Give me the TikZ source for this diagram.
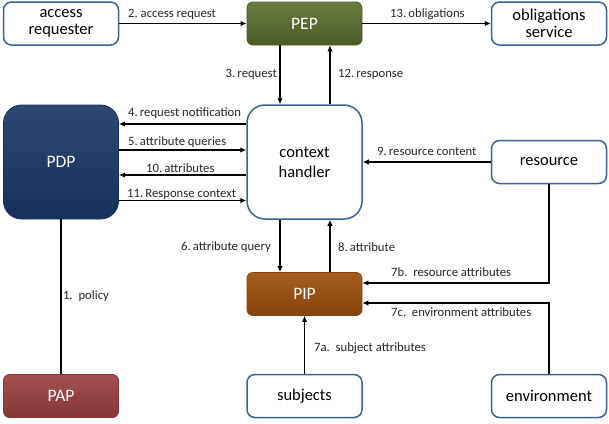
\documentclass[tikz,border=0pt]{standalone}
\usepackage{fontspec}
\setmainfont{Carlito}
\usetikzlibrary{arrows.meta,calc}
\definecolor{bordblue}{HTML}{3A6296}
\definecolor{pepc}{HTML}{5C7030}
\definecolor{pepd}{HTML}{4A5B26}
\definecolor{pdpc}{HTML}{1F3D6A}
\definecolor{pdpd}{HTML}{17305A}
\definecolor{pipc}{HTML}{A0520F}
\definecolor{pipd}{HTML}{86440C}
\definecolor{papc}{HTML}{9E4444}
\definecolor{papd}{HTML}{843636}
\begin{document}
\begin{tikzpicture}[x=1pt,y=-1pt,
  box/.style={minimum width=115pt,minimum height=43pt,inner sep=0pt,align=center,
    font=\fontsize{16.5}{17}\selectfont},
  wbox/.style={box,draw=bordblue,line width=1.5pt,fill=white,rounded corners=8pt},
  cbox/.style={box,text=white,line width=0.8pt,rounded corners=6pt,font=\fontsize{17.5}{18}\selectfont},
  arr/.style={line width=1.8pt,-{Latex[length=6pt,width=5.5pt]}},
  ln/.style={line width=1.8pt},
  lbl/.style={font=\fontsize{12.7}{14}\selectfont,inner sep=0pt,text=black!85}]
\useasboundingbox (0,0) rectangle (609,423);
% nodes
\node[wbox] (AR) at (61,23.5) {access\\requester};
\node[cbox,top color=pepc!92!white,bottom color=pepd,draw=pepd] (PEP) at (304.5,23.5) {PEP};
\node[wbox] (OS) at (549,23.5) {obligations\\service};
\node[cbox,minimum height=114pt,rounded corners=18pt,top color=pdpc!94!white,bottom color=pdpd,draw=pdpd] (PDP) at (61,162) {PDP};
\node[wbox,minimum height=114pt,rounded corners=18pt,font=\fontsize{16.5}{20}\selectfont] (CH) at (304.5,162) {context\\handler};
\node[wbox] (RES) at (549,162) {resource};
\node[cbox,top color=pipc!94!white,bottom color=pipd,draw=pipd] (PIP) at (304.5,294) {PIP};
\node[cbox,top color=papc!94!white,bottom color=papd,draw=papd] (PAP) at (61,396) {PAP};
\node[wbox] (SUB) at (304.5,396) {subjects};
\node[wbox] (ENV) at (549,396) {environment};
% coordinates
\coordinate (c3) at (280,0);
\coordinate (c12) at (330,0);
\coordinate (r4) at (0,124);
\coordinate (r5) at (0,150);
\coordinate (r10) at (0,175);
\coordinate (r11) at (0,200.5);
\coordinate (r7b) at (0,283);
\coordinate (r7c) at (0,303);
\coordinate (k7b) at (549,283);
\coordinate (k7c) at (549,303);
% connectors
\draw[arr] (AR.east) -- (PEP.west);
\draw[arr] (PEP.east) -- (OS.west);
\draw[arr] (PEP.south -| c3) -- (CH.north -| c3);
\draw[arr] (CH.north -| c12) -- (PEP.south -| c12);
\draw[arr] (CH.west |- r4) -- (PDP.east |- r4);
\draw[arr] (PDP.east |- r5) -- (CH.west |- r5);
\draw[arr] (CH.west |- r10) -- (PDP.east |- r10);
\draw[arr] (PDP.east |- r11) -- (CH.west |- r11);
\draw[arr] (RES.west) -- (CH.east);
\draw[arr] (CH.south -| c3) -- (PIP.north -| c3);
\draw[arr] (PIP.north -| c12) -- (CH.south -| c12);
\draw[arr] (RES.south) -- (k7b) -- (PIP.east |- r7b);
\draw[arr] (ENV.north) -- (k7c) -- (PIP.east |- r7c);
\draw[arr] (SUB.north) -- (PIP.south);
\draw[ln] (PDP.south) -- (PAP.north);
% labels
\node[lbl,anchor=west] (l2) at (128,14) {2.\ access request};
\node[lbl,anchor=west] (l13) at (390,14) {13.\,obligations};
\node[lbl,anchor=east] (l3) at (277,74) {3.\,request};
\node[lbl,anchor=west] (l12) at (338,74) {12.\,response};
\node[lbl,anchor=west] (l4) at (128,113) {4.\,request notification};
\node[lbl,anchor=west] (l5) at (128,142) {5.\,attribute queries};
\node[lbl,anchor=west] (l10) at (146,168) {10.\,attributes};
\node[lbl,anchor=west] (l11) at (127,194) {11.\,Response context};
\node[lbl,anchor=west] (l9) at (377,151) {9.\,resource content};
\node[lbl,anchor=east] (l6) at (271,247) {6.\,attribute query};
\node[lbl,anchor=west] (l8) at (338,247) {8.\,attribute};
\node[lbl,anchor=west] (l7b) at (391,272) {7b.\ \ resource attributes};
\node[lbl,anchor=west] (l7c) at (391,312) {7c.\ \ environment attributes};
\node[lbl,anchor=west] (l7a) at (314,348) {7a.\ \ subject attributes};
\node[lbl,anchor=west] (l1) at (63,296) {1.\ \ policy};
\end{tikzpicture}
\end{document}
